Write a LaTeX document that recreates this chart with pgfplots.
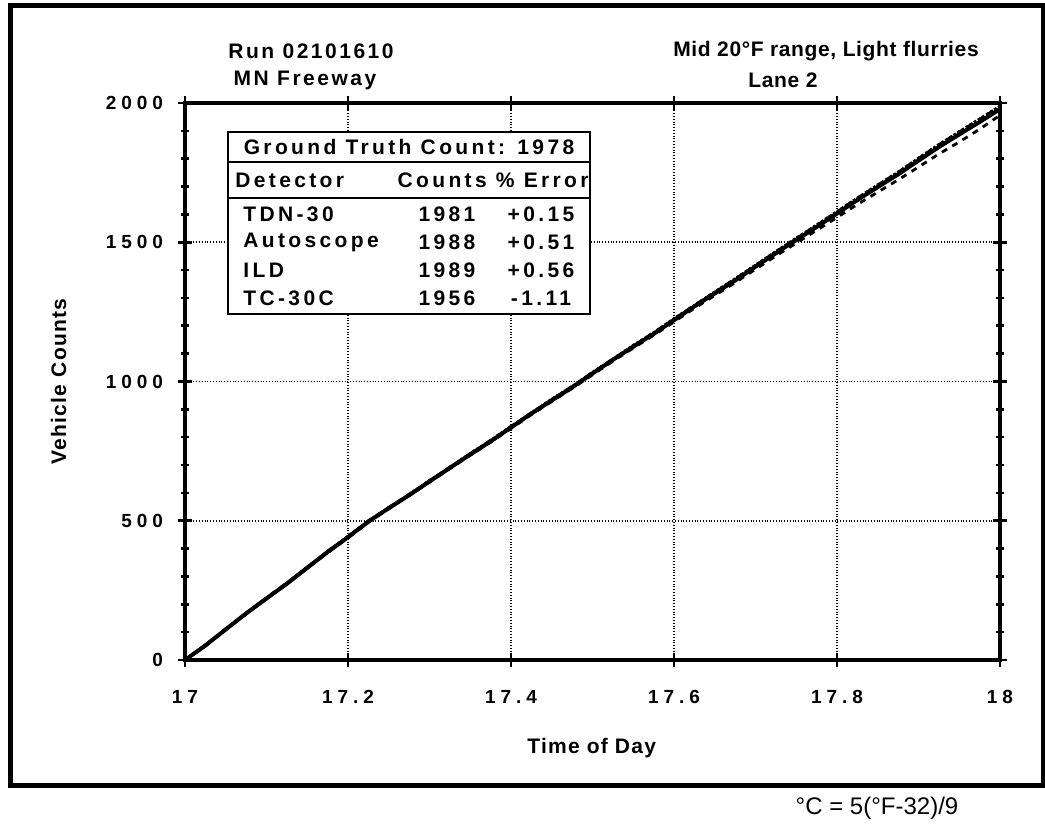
\documentclass[border=0pt]{standalone}
\usepackage{fontspec}
\setmainfont{Liberation Sans}
\newfontfamily\tickf[LetterSpace=26]{Liberation Sans}
\newfontfamily\titlf[LetterSpace=12]{Liberation Sans}
\newfontfamily\titrf[LetterSpace=3]{Liberation Sans}
\newfontfamily\tabf[LetterSpace=16]{Liberation Sans}
\newfontfamily\labf[LetterSpace=6]{Liberation Sans}
\usepackage{pgfplots}
\pgfplotsset{compat=1.18}
\usepackage{pgfplotstable}

\pgfplotstableread{
x       gt    tdn   auto  ild   tc
17.000  0     0     0     0     0
17.025  52    54    50    53    51
17.050  110   108   112   111   109
17.075  167   169   165   168   166
17.100  221   223   224   219   220
17.125  274   272   277   276   273
17.150  331   333   330   334   329
17.175  388   386   391   389   385
17.200  441   443   440   444   438
17.225  497   495   500   499   494
17.250  545   548   547   546   543
17.275  592   590   595   594   590
17.300  641   643   640   645   638
17.325  690   688   693   691   687
17.350  738   741   740   742   735
17.375  785   783   789   788   782
17.400  835   837   836   839   831
17.425  885   883   888   887   881
17.450  932   935   934   937   928
17.475  979   977   983   982   975
17.500  1029  1031  1032  1033  1024
17.525  1078  1076  1081  1080  1073
17.550  1125  1128  1127  1130  1120
17.575  1171  1169  1176  1175  1166
17.600  1220  1223  1224  1226  1214
17.625  1270  1268  1274  1273  1263
17.650  1316  1319  1320  1322  1309
17.675  1363  1361  1368  1369  1355
17.700  1412  1414  1417  1418  1403
17.725  1461  1459  1466  1467  1451
17.750  1508  1511  1513  1515  1497
17.775  1555  1553  1561  1562  1543
17.800  1603  1606  1609  1610  1589
17.825  1652  1650  1658  1659  1636
17.850  1698  1701  1705  1706  1680
17.875  1744  1742  1751  1752  1724
17.900  1793  1796  1801  1802  1770
17.925  1842  1840  1850  1851  1817
17.950  1887  1890  1896  1897  1860
17.975  1932  1930  1941  1943  1906
18.000  1978  1981  1988  1989  1956
}\data

\begin{document}
\begin{tikzpicture}
\useasboundingbox (-92.5pt,-84pt) rectangle (430pt,330pt);
\begin{axis}[
  at={(0,0)}, anchor=south west,
  scale only axis, width=407.5pt, height=278.5pt,
  xmin=17, xmax=18, ymin=0, ymax=2000,
  xtick={17,17.2,17.4,17.6,17.8,18},
  xticklabels={17,17.2,17.4,17.6,17.8,18},
  ytick={0,500,1000,1500,2000},
  yticklabels={0,500,1000,1500,2000},
  minor y tick num=4,
  grid=major,
  major grid style={densely dotted, line width=0.9pt, black},
  axis line style={line width=1.8pt},
  tick align=center, major tick length=7pt, minor tick length=4pt,
  every tick/.style={black, line width=1.3pt},
  tick label style={font=\tickf\bfseries\fontsize{9.5}{10}\selectfont},
  xticklabel style={yshift=-8pt},
  yticklabel style={xshift=-4pt},
  /pgf/number format/assume math mode=true,
  xlabel={Time of Day},
  ylabel={Vehicle Counts},
  label style={font=\labf\bfseries\fontsize{10.5}{12}\selectfont},
  xlabel style={at={(axis description cs:0.499,-0.158)}, anchor=center},
  ylabel style={at={(axis description cs:-0.155,0.5)}, anchor=center, rotate=0},
  clip=false,
]
\addplot[black, line width=2pt] table[x=x, y=gt] {\data};
\addplot[black, line width=1.4pt] table[x=x, y=tdn] {\data};
\addplot[black, line width=1.4pt, dashed] table[x=x, y=auto] {\data};
\addplot[black, line width=1.4pt, densely dotted] table[x=x, y=ild] {\data};
\addplot[black, line width=1.4pt, dashed] table[x=x, y=tc] {\data};
\coordinate (O) at (rel axis cs:0,0);
\end{axis}
\begin{scope}[shift={(O)}]
  % outer frame
  \draw[line width=2.5pt] (-87.25pt,-63pt) rectangle (429pt,327pt);
  % titles
  \node[font=\titlf\bfseries\fontsize{10.5}{12}\selectfont] at (63pt,304.25pt) {Run 02101610};
  \node[font=\titlf\bfseries\fontsize{10.5}{12}\selectfont] at (60pt,290pt) {MN Freeway};
  \node[font=\titrf\bfseries\fontsize{10.5}{12}\selectfont] at (320.5pt,304.25pt) {Mid 20°F range, Light flurries};
  \node[font=\titrf\bfseries\fontsize{10.5}{12}\selectfont] at (299pt,290pt) {Lane 2};
  % table
  \draw[line width=1.4pt, fill=white] (21.5pt,173pt) rectangle (202.5pt,264pt);
  \draw[line width=1.4pt] (21.5pt,249pt) -- (202.5pt,249pt);
  \draw[line width=1.4pt] (21.5pt,231pt) -- (202.5pt,231pt);
  \begin{scope}[every node/.style={font=\tabf\bfseries\fontsize{10.5}{12}\selectfont, inner sep=0pt}]
    \node at (112pt,256.5pt) {Ground Truth Count: 1978};
    \node[anchor=west] at (25pt,240pt) {Detector};
    \node[anchor=east] at (202pt,240pt) {Counts \% Error};
    \node[anchor=west] at (29pt,223pt) {TDN-30};
    \node[anchor=west] at (29pt,209pt) {Autoscope};
    \node[anchor=west] at (29pt,195pt) {ILD};
    \node[anchor=west] at (29pt,181pt) {TC-30C};
    \node at (131pt,223pt) {1981};
    \node at (131pt,209pt) {1988};
    \node at (131pt,195pt) {1989};
    \node at (131pt,181pt) {1956};
    \node at (178pt,223pt) {+0.15};
    \node at (178pt,209pt) {+0.51};
    \node at (178pt,195pt) {+0.56};
    \node at (178pt,181pt) {-1.11};
  \end{scope}
  % footnote
  \node[font=\fontsize{12}{14}\selectfont] at (346pt,-74pt) {°C = 5(°F-32)/9};
\end{scope}
\end{tikzpicture}
\end{document}
